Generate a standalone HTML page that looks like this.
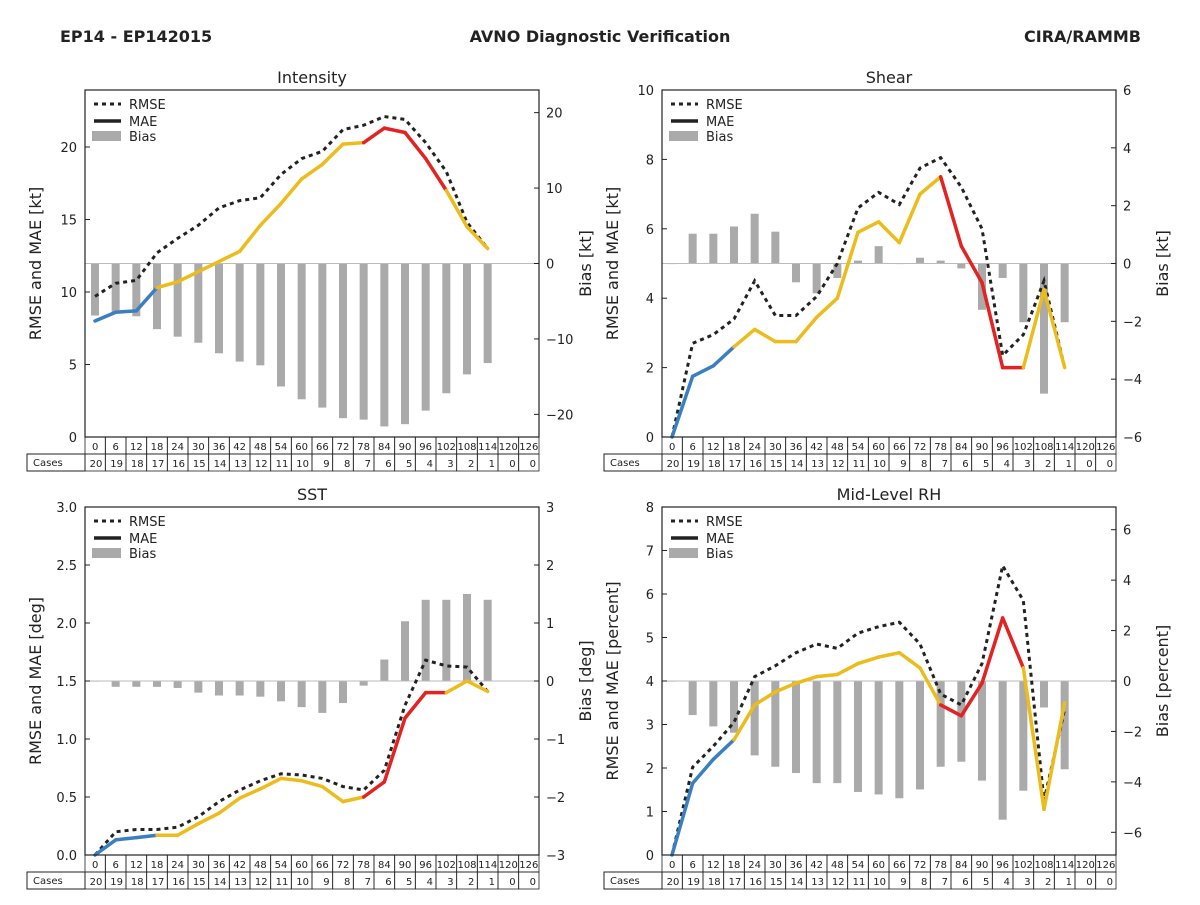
<!DOCTYPE html>
<html><head><meta charset="utf-8"><style>
body{margin:0;background:#fff;font-family:"Liberation Sans","DejaVu Sans",sans-serif}
svg text{font-family:"DejaVu Sans","Liberation Sans",sans-serif}
</style></head><body>
<svg id="chart" width="1200" height="900" viewBox="0 0 1200 900" xmlns="http://www.w3.org/2000/svg">
<text x="60" y="42" font-size="16" font-weight="bold" fill="#222">EP14 - EP142015</text>
<text x="600" y="42" font-size="16" font-weight="bold" fill="#222" text-anchor="middle">AVNO Diagnostic Verification</text>
<text x="1141" y="42" font-size="16" font-weight="bold" fill="#222" text-anchor="end">CIRA/RAMMB</text>
</svg>
<script>
const hours=[0,6,12,18,24,30,36,42,48,54,60,66,72,78,84,90,96,102,108,114,120,126];
const cases=[20,19,18,17,16,15,14,13,12,11,10,9,8,7,6,5,4,3,2,1,0,0];
const intRmse=[9.7,10.6,10.8,12.7,13.7,14.6,15.8,16.3,16.5,18.1,19.2,19.7,21.2,21.5,22.1,21.9,20.3,18.3,14.8,13.0];
const intMae=[8.0,8.6,8.7,10.3,10.7,11.4,12.1,12.8,14.6,16.1,17.8,18.8,20.2,20.3,21.3,21.0,19.2,17.0,14.5,13.0];
const intBias=[-6.9,-6.6,-7.0,-8.7,-9.7,-10.5,-11.9,-13,-13.5,-16.3,-18,-19.1,-20.5,-20.7,-21.6,-21.3,-19.5,-17.2,-14.7,-13.2];
const shrRmse=[0,2.7,2.95,3.4,4.5,3.5,3.5,4.05,5.0,6.6,7.05,6.7,7.75,8.05,7.2,6.0,2.35,2.95,4.5,2.0];
const shrMae=[0,1.75,2.05,2.6,3.1,2.75,2.75,3.45,4.0,5.9,6.2,5.6,7.0,7.5,5.5,4.45,2.0,2.0,4.25,2.0];
const shrBias=[0,1.03,1.03,1.28,1.72,1.1,-0.65,-1.03,-0.5,0.1,0.6,0,0.2,0.1,-0.17,-1.6,-0.5,-2.03,-4.5,-2.03];
const sstRmse=[0,0.2,0.22,0.22,0.24,0.33,0.46,0.56,0.64,0.7,0.69,0.66,0.59,0.56,0.73,1.29,1.68,1.63,1.62,1.41];
const sstMae=[0,0.13,0.15,0.17,0.17,0.27,0.36,0.49,0.57,0.66,0.64,0.59,0.46,0.5,0.63,1.18,1.4,1.4,1.5,1.41];
const sstBias=[0,-0.1,-0.1,-0.1,-0.12,-0.2,-0.25,-0.25,-0.27,-0.35,-0.45,-0.55,-0.38,-0.08,0.37,1.03,1.4,1.4,1.5,1.4];
const rhRmse=[0,2.02,2.5,3.05,4.1,4.35,4.65,4.85,4.75,5.1,5.25,5.35,4.85,3.7,3.45,4.4,6.65,5.85,1.25,3.35];
const rhMae=[0,1.65,2.2,2.65,3.45,3.75,3.95,4.1,4.15,4.4,4.55,4.65,4.3,3.45,3.2,3.95,5.45,4.3,1.05,3.5];
const rhBias=[0,-1.35,-1.8,-2.05,-2.95,-3.4,-3.65,-4.05,-4.05,-4.4,-4.5,-4.65,-4.3,-3.4,-3.2,-3.95,-5.5,-4.35,-1.05,-3.5];
// segment colour codes: b=blue y=yellow r=red (segment i joins point i and i+1)
const intSeg="bbbyyyyyyyyyyrrrryy";
const shrSeg="bbbyyyyyyyyyyrrrryy";
const sstSeg="bbbyyyyyyyyyyrrrryy";
const rhSeg="bbbyyyyyyyyyyrrrryy";

const NS="http://www.w3.org/2000/svg";
const svg=document.getElementById('chart');
const COL={b:'#3a7fc0',y:'#ecbc1c',r:'#e32222'};
function mk(tag,attrs,parent){const e=document.createElementNS(NS,tag);for(const k in attrs)e.setAttribute(k,attrs[k]);(parent||svg).appendChild(e);return e;}
function fmt(v,dec){let s=v.toFixed(dec);if(v<0)s='\u2212'+s.slice(1);return s;}

function panel(p){
  const g=mk('g',{});
  
  
  const L=p.x0,R=p.x1,T=p.y0,B=p.y1;
  const xs=i=>L+10+i*(R-L-20)/21;
  const yl=v=>B-(v-p.lmin)/(p.lmax-p.lmin)*(B-T);
  const yr=v=>B-(v-p.rmin)/(p.rmax-p.rmin)*(B-T);
  // bias bars
  p.bias.forEach((v,i)=>{
    const y0=yr(0),y1=yr(v);
    const b=mk('rect',{x:xs(i)-4,y:Math.min(y0,y1),width:8,height:Math.max(Math.abs(y1-y0),0.6),fill:'#aaaaaa'},g);
    
    
  });
  mk('line',{x1:L,x2:R,y1:yr(0),y2:yr(0),stroke:'#bbb','stroke-width':1},g);
  // RMSE dotted
  const pts=p.rmse.map((v,i)=>xs(i)+','+yl(v)).join(' ');
  const rl=mk('polyline',{points:pts,fill:'none',stroke:'#222','stroke-width':3,'stroke-dasharray':'4,4'},g);
  
  
  // MAE coloured segments
  for(let i=0;i<p.mae.length-1;i++){
    const s=mk('line',{x1:xs(i),y1:yl(p.mae[i]),x2:xs(i+1),y2:yl(p.mae[i+1]),stroke:COL[p.seg[i]],'stroke-width':3.5,'stroke-linecap':'round'},g);
    
    
  }
  // frame
  mk('rect',{x:L,y:T,width:R-L,height:B-T,fill:'none',stroke:'#222','stroke-width':1.2},g);
  // title
  const t=mk('text',{x:(L+R)/2,y:T-7,'font-size':16,'text-anchor':'middle',fill:'#222'},g);t.textContent=p.title;
  
  
  // left ticks
  p.lt.forEach(v=>{const y=yl(v);mk('line',{x1:L,x2:L+5,y1:y,y2:y,stroke:'#222'},g);
    const tx=mk('text',{x:L-8,y:y+5,'font-size':13,'text-anchor':'end',fill:'#222'},g);tx.textContent=v.toFixed(p.ld);
    
    });
  p.rt.forEach(v=>{const y=yr(v);mk('line',{x1:R-5,x2:R,y1:y,y2:y,stroke:'#222'},g);
    const tx=mk('text',{x:R+7,y:y+5,'font-size':13,fill:'#222'},g);tx.textContent=fmt(v,0);
    
    });
  const ly=mk('text',{transform:`translate(${L-44},${(T+B)/2}) rotate(-90)`,'font-size':16,'text-anchor':'middle',fill:'#222'},g);ly.textContent=p.ylab;
  
  
  const ry=mk('text',{transform:`translate(${R+52},${(T+B)/2}) rotate(-90)`,'font-size':16,'text-anchor':'middle',fill:'#222'},g);ry.textContent=p.rlab;
  
  
  // legend
  const lg=mk('g',{},g);
  
  
  mk('line',{x1:L+9,x2:L+36,y1:T+14,y2:T+14,stroke:'#222','stroke-width':3,'stroke-dasharray':'4,4'},lg);
  mk('line',{x1:L+9,x2:L+36,y1:T+31,y2:T+31,stroke:'#222','stroke-width':3.5},lg);
  mk('rect',{x:L+7,y:T+41,width:29,height:10,fill:'#aaa'},lg);
  [['RMSE',14],['MAE',31],['Bias',46]].forEach(a=>{const tx=mk('text',{x:L+44,y:T+a[1]+5,'font-size':13,fill:'#222'},lg);tx.textContent=a[0];});
  // table
  const cw=(R-L)/22*0+ (R-L-20)/21;
  const tb=mk('g',{},g);
  
  
  mk('rect',{x:L-58,y:B+17,width:58,height:17,fill:'none',stroke:'#222'},tb);
  const cl=mk('text',{x:L-52,y:B+29,'font-size':10,fill:'#222'},tb);cl.textContent='Cases';
  hours.forEach((h,i)=>{
    const x0=i==0?L:xs(i)-cw/2, x1=i==21?R:xs(i)+cw/2;
    mk('rect',{x:x0,y:B,width:x1-x0,height:17,fill:'none',stroke:'#222','stroke-width':0.8},tb);
    mk('rect',{x:x0,y:B+17,width:x1-x0,height:17,fill:'none',stroke:'#222','stroke-width':0.8},tb);
    const ht=mk('text',{x:(x0+x1)/2,y:B+13,'font-size':10,'text-anchor':'middle',fill:'#222'},tb);ht.textContent=h;
    const ct=mk('text',{x:x1-3,y:B+30,'font-size':10,'text-anchor':'end',fill:'#222'},tb);ct.textContent=cases[i];
  });
}
panel({name:'intensity',title:'Intensity',x0:85,x1:539,y0:90,y1:437,lmin:0,lmax:23.93,rmin:-23,rmax:23,lt:[0,5,10,15,20],ld:0,rt:[-20,-10,0,10,20],ylab:'RMSE and MAE [kt]',rlab:'Bias [kt]',rmse:intRmse,mae:intMae,bias:intBias,seg:intSeg});
panel({name:'shear',title:'Shear',x0:662,x1:1116,y0:90,y1:437,lmin:0,lmax:10,rmin:-6,rmax:6,lt:[0,2,4,6,8,10],ld:0,rt:[-6,-4,-2,0,2,4,6],ylab:'RMSE and MAE [kt]',rlab:'Bias [kt]',rmse:shrRmse,mae:shrMae,bias:shrBias,seg:shrSeg});
panel({name:'sst',title:'SST',x0:85,x1:539,y0:507,y1:855,lmin:0,lmax:3,rmin:-3,rmax:3,lt:[0,0.5,1,1.5,2,2.5,3],ld:1,rt:[-3,-2,-1,0,1,2,3],ylab:'RMSE and MAE [deg]',rlab:'Bias [deg]',rmse:sstRmse,mae:sstMae,bias:sstBias,seg:sstSeg});
panel({name:'rh',title:'Mid-Level RH',x0:662,x1:1116,y0:507,y1:855,lmin:0,lmax:8,rmin:-6.9,rmax:6.9,lt:[0,1,2,3,4,5,6,7,8],ld:0,rt:[-6,-4,-2,0,2,4,6],ylab:'RMSE and MAE [percent]',rlab:'Bias [percent]',rmse:rhRmse,mae:rhMae,bias:rhBias,seg:rhSeg});
</script>
</body></html>
